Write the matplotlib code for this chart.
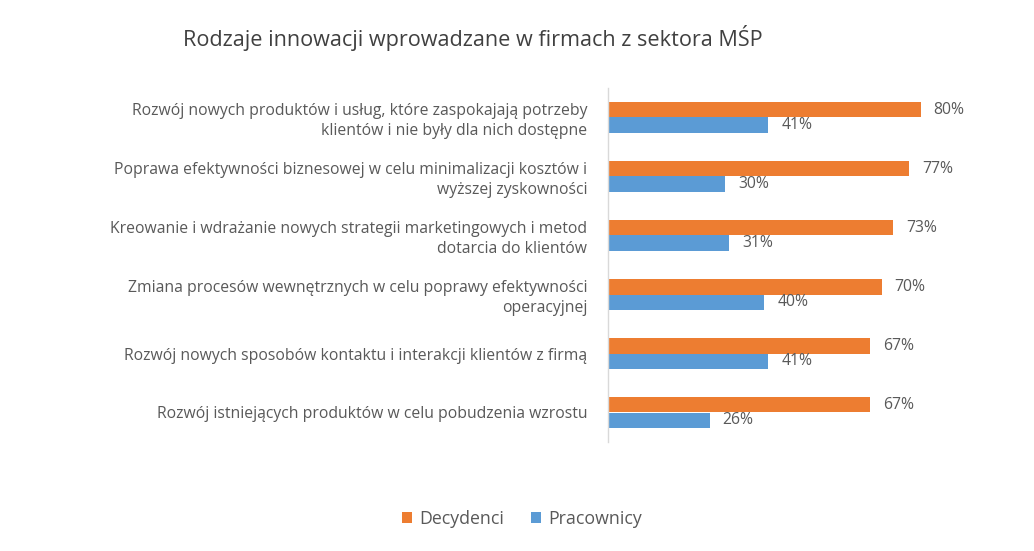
import matplotlib
matplotlib.use("Agg")
import matplotlib.pyplot as plt
import numpy as np

plt.rcParams["font.family"] = ["Open Sans", "DejaVu Sans"]

categories = [
    "Rozwój nowych produktów i usług, które zaspokajają potrzeby\nklientów i nie były dla nich dostępne",
    "Poprawa efektywności biznesowej w celu minimalizacji kosztów i\nwyższej zyskowności",
    "Kreowanie i wdrażanie nowych strategii marketingowych i metod\ndotarcia do klientów",
    "Zmiana procesów wewnętrznych w celu poprawy efektywności\noperacyjnej",
    "Rozwój nowych sposobów kontaktu i interakcji klientów z firmą",
    "Rozwój istniejących produktów w celu pobudzenia wzrostu",
]
decydenci = [80, 77, 73, 70, 67, 67]
pracownicy = [41, 30, 31, 40, 41, 26]

ORANGE = "#ED7D31"
BLUE = "#5B9BD5"
GREY = "#595959"

fig = plt.figure(figsize=(10.34, 5.51), dpi=100)
ax = fig.add_axes([608 / 1034, 1 - 442 / 551, 391 / 1034, 354 / 551])

y = np.arange(len(categories))
h = 0.265
b1 = ax.barh(y - h / 2, decydenci, height=h, color=ORANGE, label="Decydenci")
b2 = ax.barh(y + h / 2, pracownicy, height=h, color=BLUE, label="Pracownicy")

for bars, vals in ((b1, decydenci), (b2, pracownicy)):
    for bar, v in zip(bars, vals):
        ax.text(bar.get_width() + 3.3, bar.get_y() + bar.get_height() / 2, f"{v}%",
                va="center", ha="left", fontsize=11.3, color=GREY)

ax.set_xlim(0, 100)
ax.set_ylim(len(categories) - 0.5, -0.5)
ax.set_yticks(y)
ax.set_yticklabels(categories, fontsize=11.3, color=GREY, linespacing=1.32)
ax.tick_params(axis="y", length=0, pad=15)
ax.set_xticks([])
for s in ("top", "right", "bottom"):
    ax.spines[s].set_visible(False)
ax.spines["left"].set_color("#D9D9D9")
ax.spines["left"].set_linewidth(1.0)

fig.text(473 / 1034, 1 - 38 / 551, "Rodzaje innowacji wprowadzane w firmach z sektora MŚP",
         ha="center", va="center", fontsize=15.6, color="#404040")

fig.legend(handles=[b1, b2], loc="center", bbox_to_anchor=(522 / 1034, 1 - 519 / 551),
           ncol=2, frameon=False, fontsize=12.8, labelcolor=GREY,
           handlelength=0.55, handleheight=0.55, handletextpad=0.4, columnspacing=1.5)

fig.savefig("out.png", dpi=100)
